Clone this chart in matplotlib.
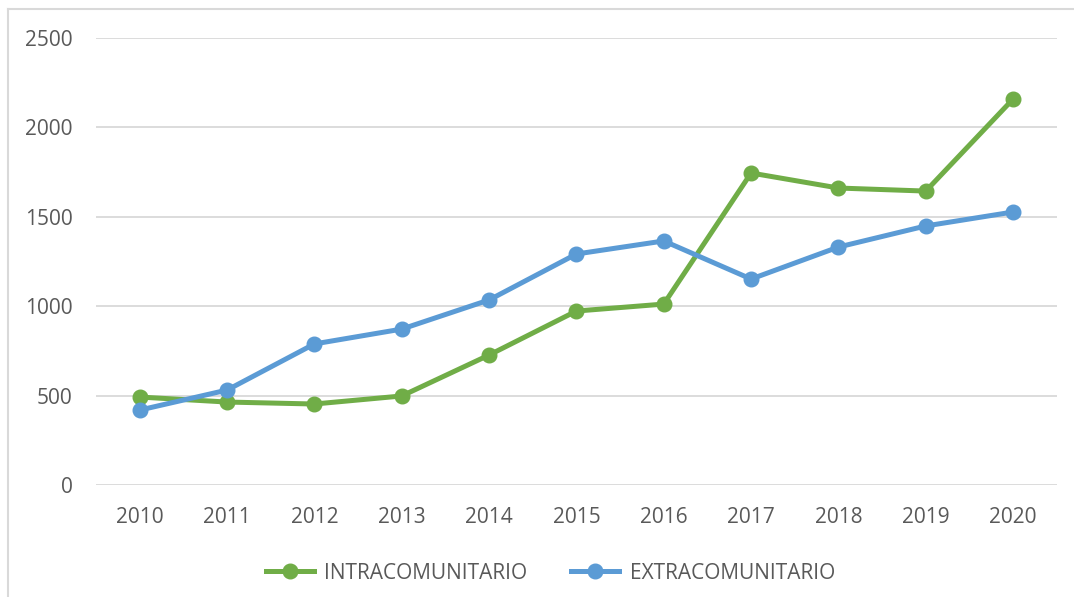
import matplotlib.pyplot as plt
from matplotlib.lines import Line2D

years = ['2010', '2011', '2012', '2013', '2014', '2015', '2016', '2017', '2018', '2019', '2020']
intra = [492, 464, 453, 498, 727, 973, 1012, 1745, 1661, 1644, 2159]
extra = [419, 531, 789, 872, 1035, 1292, 1365, 1152, 1331, 1449, 1527]

plt.rcParams['font.family'] = ['Open Sans', 'DejaVu Sans']

fig = plt.figure(figsize=(10.74, 5.97), dpi=100)
ax = fig.add_axes([0.0894, 0.1876, 0.8946, 0.7487])

x = range(len(years))
ax.plot(x, intra, color='#70AD47', lw=3.6, marker='o', ms=10.5, label='INTRACOMUNITARIO')
ax.plot(x, extra, color='#5B9BD5', lw=3.6, marker='o', ms=10.5, label='EXTRACOMUNITARIO')

ax.set_xlim(-0.5, len(years) - 0.5)
ax.set_ylim(0, 2500)
ax.set_yticks([0, 500, 1000, 1500, 2000, 2500])
ax.set_xticks(list(x))
ax.set_xticklabels(years)
ax.grid(axis='y', color='#D9D9D9', lw=1.3)
ax.set_axisbelow(True)
for s in ax.spines.values():
    s.set_visible(False)
ax.tick_params(length=0, labelsize=15, labelcolor='#595959')
ax.tick_params(axis='y', pad=17)
ax.tick_params(axis='x', pad=16)

ax.legend(loc='center', bbox_to_anchor=(0.5 - 26 / 961, -0.197), ncol=2, frameon=False,
          fontsize=15, labelcolor='#595959', handlelength=2.3, columnspacing=2.1,
          handletextpad=0.5)

# outer frame (only top and left visible in the original crop)
fig.add_artist(Line2D([8 / 1074, 1], [1 - 9 / 597, 1 - 9 / 597], color='#D9D9D9', lw=1.5))
fig.add_artist(Line2D([8 / 1074, 8 / 1074], [0, 1 - 9 / 597], color='#D9D9D9', lw=1.5))

fig.savefig('out.png', dpi=100)
